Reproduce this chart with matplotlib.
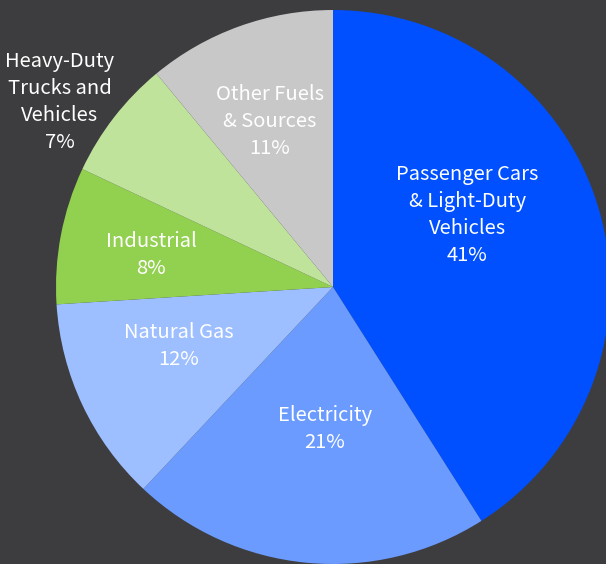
import numpy as np
import matplotlib.pyplot as plt

plt.rcParams['font.family'] = ['Noto Sans CJK SC', 'DejaVu Sans']

# data
labels = ["Passenger Cars\n& Light-Duty\nVehicles", "Electricity", "Natural Gas",
          "Industrial", "Heavy-Duty\nTrucks and\nVehicles", "Other Fuels\n& Sources"]
shares = [41, 21, 12, 8, 7, 11]
colors = ["#0050FF", "#6B9BFF", "#9DBEFF", "#92D050", "#C0E39C", "#C8C8C8"]

# label spots (fraction of radius)
label_pos = [(0.484, 0.260), (-0.029, -0.512), (-0.556, -0.213),
             (-0.657, 0.116), (-0.986, 0.668), (-0.227, 0.596)]

bg = "#3D3D3F"
fig = plt.figure(figsize=(6.06, 5.64), dpi=100, facecolor=bg)
ax = fig.add_axes([0, 0, 1, 1])
ax.set_facecolor(bg)

ax.pie(shares, colors=colors, startangle=90, counterclock=False, radius=1,
       wedgeprops=dict(linewidth=0))

for lab, val, (x, y) in zip(labels, shares, label_pos):
    ax.text(x, y, f"{lab}\n{val}%", ha="center", va="center", color="white",
            fontsize=14.5, linespacing=1.38)

ax.set_xlim(-333/277, (606-333)/277)
ax.set_ylim(-(564-287)/277, 287/277)
ax.set_aspect("equal")
ax.axis("off")

fig.savefig("out.png", dpi=100, facecolor=bg)
